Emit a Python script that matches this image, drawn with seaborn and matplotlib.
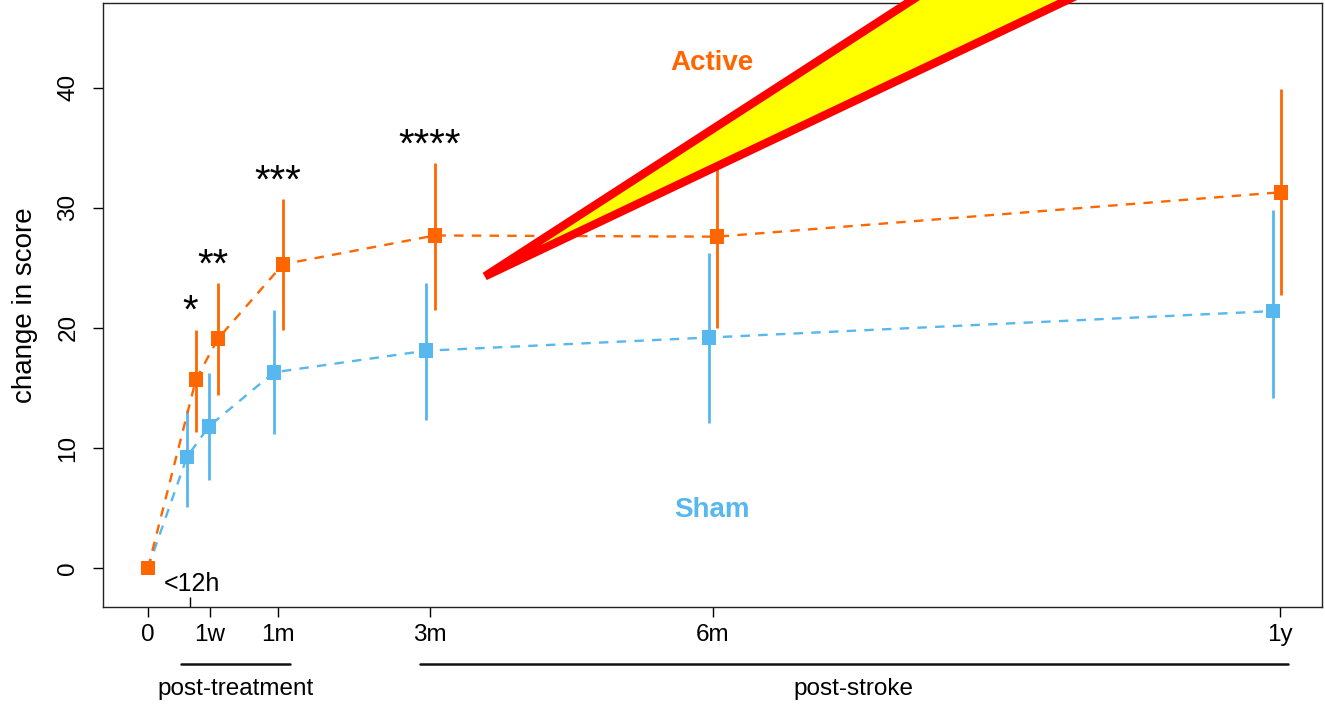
import seaborn as sns
import pandas as pd
import numpy as np
import matplotlib.pyplot as plt
from matplotlib.patches import Polygon

sns.set_theme()
sns.set_style("ticks")
plt.rcParams['font.family'] = ['Liberation Sans', 'DejaVu Sans']
plt.rcParams['text.color'] = 'black'
plt.rcParams['axes.labelcolor'] = 'black'
plt.rcParams['xtick.color'] = 'black'
plt.rcParams['ytick.color'] = 'black'

orange = "#FF6600"
blue = "#56B8EE"

# time axis (positions on the stretched R axis)
tick_pos = [0, 0.62, 1.30, 2.82, 5.65, 11.32]
tick_lab = ["0", "1w", "1m", "3m", "6m", "1y"]
pos_12h = 0.42

# group means and error bars
active_x = [0, 0.48, 0.70, 1.35, 2.87, 5.69, 11.33]
active_y = [0, 15.7, 19.1, 25.3, 27.7, 27.6, 31.3]
active_lo = [0, 11.3, 14.4, 19.8, 21.5, 20.0, 22.7]
active_hi = [0, 19.8, 23.75, 30.75, 33.75, 35.2, 39.9]

sham_x = [0, 0.39, 0.61, 1.26, 2.78, 5.61, 11.25]
sham_y = [0, 9.25, 11.8, 16.3, 18.1, 19.2, 21.4]
sham_lo = [0, 5.1, 7.3, 11.2, 12.3, 12.1, 14.2]
sham_hi = [0, 13.2, 16.25, 21.5, 23.75, 26.25, 29.8]

# significance stars
star_x = [0.42, 0.65, 1.30, 2.82]
star_y = [20.4, 24.3, 31.25, 34.3]
star_txt = ["*", "**", "***", "****"]

# highlight wedge
wedge_x = [3.37, 9.07, 11.14]
wedge_y = [24.3, 55, 55]

# period brackets under the axis
periods = ["post-treatment", "post-stroke"]
period_start = [0.33, 2.72]
period_end = [1.42, 11.40]

sham_df = pd.DataFrame({"x": sham_x, "y": sham_y, "lo": sham_lo, "hi": sham_hi})
active_df = pd.DataFrame({"x": active_x, "y": active_y, "lo": active_lo, "hi": active_hi})

fig = plt.figure(figsize=(13.25, 7.05), dpi=100)
ax = fig.add_axes([0.0777, 0.139, 0.920, 0.857])

for df, col in [(sham_df, blue), (active_df, orange)]:
    sns.lineplot(data=df, x="x", y="y", color=col, sort=False, lw=1.7,
                 linestyle=(0, (4, 3.5)), ax=ax)
    ax.vlines(df.x, df.lo, df.hi, color=col, lw=2)
    sns.scatterplot(data=df, x="x", y="y", color=col, marker="s", s=110,
                    edgecolor="none", ax=ax, zorder=5)

ax.set_xlim(-0.45, 11.74)
ax.set_ylim(-3.25, 47.08)
for s in ax.spines.values():
    s.set_visible(True)
    s.set_color("#222222")
    s.set_linewidth(1)

ax.set_xticks(tick_pos)
ax.set_xticklabels(tick_lab, fontsize=17.5)
ax.set_xticks([pos_12h], minor=True)
ax.tick_params(axis="x", which="major", length=7, width=1, pad=5)
ax.tick_params(axis="x", which="minor", direction="in", length=7, width=1)
ax.set_yticks([0, 10, 20, 30, 40])
ax.set_yticklabels(["0", "10", "20", "30", "40"], fontsize=17.5, rotation=90, va="center")
ax.tick_params(axis="y", length=7, width=1, pad=10)
ax.set_xlabel("")
ax.set_ylabel("change in score", fontsize=20, labelpad=14)

ax.text(pos_12h + 0.02, -1.3, "<12h", fontsize=18, ha="center", va="center")
for sx, sy, st in zip(star_x, star_y, star_txt):
    ax.text(sx, sy, st, fontsize=29, ha="center", va="baseline")
ax.text(5.64, 42.1, "Active", color=orange, fontsize=20, fontweight="bold", ha="center", va="center")
ax.text(5.64, 4.83, "Sham", color=blue, fontsize=20, fontweight="bold", ha="center", va="center")

for lab, a, b in zip(periods, period_start, period_end):
    ax.plot([a, b], [-8.0, -8.0], color="#111111", lw=1.8, clip_on=False)
    ax.text((a + b) / 2, -10.1, lab, fontsize=17.5, ha="center", va="center")

wedge = Polygon(np.column_stack([wedge_x, wedge_y]), closed=True, facecolor="yellow",
                edgecolor="red", lw=6, joinstyle="bevel", clip_on=False, zorder=10)
ax.add_patch(wedge)

plt.savefig("out.png", dpi=100)
